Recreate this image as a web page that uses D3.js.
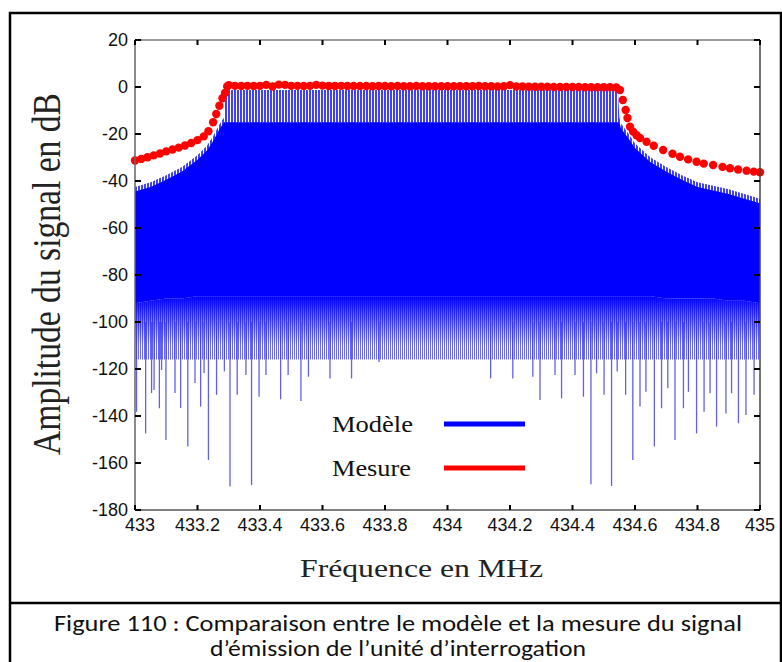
<!DOCTYPE html>
<html><head><meta charset="utf-8">
<script src="https://cdn.jsdelivr.net/npm/d3@7"></script>
<style>body{margin:0;background:#fff}</style>
</head><body><svg id="c" width="782" height="662"></svg>
<script>
// ---------- data ----------
const xTicks = [433, 433.2, 433.4, 433.6, 433.8, 434, 434.2, 434.4, 434.6, 434.8, 435];
const yTicks = [20, 0, -20, -40, -60, -80, -100, -120, -140, -160, -180];

// Mesure (red dots)
const mesureFreq = [433.00,433.02,433.04,433.06,433.08,433.10,433.12,433.14,433.16,433.18,433.20,433.22,433.235,433.25,433.26,433.27,433.28,433.288,433.295,
  433.30,433.32,433.34,433.36,433.38,433.40,433.42,433.44,433.46,433.48,433.50,433.52,433.54,433.56,433.58,433.60,433.62,433.64,433.66,433.68,433.70,
  433.72,433.74,433.76,433.78,433.80,433.82,433.84,433.86,433.88,433.90,433.92,433.94,433.96,433.98,434.00,434.02,434.04,434.06,434.08,434.10,
  434.12,434.14,434.16,434.18,434.20,434.22,434.24,434.26,434.28,434.30,434.32,434.34,434.36,434.38,434.40,434.42,434.44,434.46,434.48,434.50,
  434.52,434.54,434.552,434.561,434.570,434.576,434.584,434.594,434.605,434.616,434.637,434.66,434.69,434.72,434.744,434.77,434.797,434.82,434.85,
  434.88,434.904,434.93,434.957,434.98,435.00];
const mesureDb = [-31.3,-30.6,-29.9,-29.1,-28.3,-27.4,-26.6,-25.8,-24.9,-23.8,-22.6,-21.0,-18.8,-15.0,-11.5,-8.0,-4.8,-2.5,0.2,
  0.8,0.5,0.4,0.5,0.4,0.5,0.9,0.2,1.0,0.9,0.5,0.5,0.4,0.5,0.9,0.6,0.4,0.4,0.5,0.4,0.4,
  0.4,0.4,0.3,0.4,0.4,0.3,0.4,0.3,0.3,0.4,0.3,0.3,0.3,0.3,0.3,0.3,0.3,0.3,0.3,0.4,
  0.3,0.3,0.2,0.3,0.8,0.2,0.2,0.1,0.1,0.1,0.1,0.0,0.0,0.0,0.0,0.0,-0.1,-0.1,-0.1,-0.1,
  -0.1,-0.2,-1.3,-5.5,-9.8,-13.2,-16.9,-19.0,-20.5,-21.7,-23.3,-25.0,-26.8,-28.4,-29.7,-30.8,-31.8,-32.6,-33.2,
  -34.0,-34.6,-35.1,-35.6,-36.0,-36.3];

// Modèle (blue spectrum) envelopes
const modelFreq = [433.00,433.05,433.10,433.15,433.20,433.23,433.25,433.27,433.285,433.29,434.545,434.55,434.555,434.58,434.60,434.65,434.70,434.75,434.80,434.85,434.90,434.95,435.00];
const modelPeak = [-42.5,-40.5,-37.5,-34,-29,-25,-21,-16,-13,-1.3,-1.3,-13,-15.5,-20,-24,-30,-34,-37.5,-40.5,-42,-43.5,-45.5,-47.5];
const modelSolidTop = [-44.5,-42.5,-39.5,-36,-31,-27,-23,-18,-15,-15,-15,-15,-17.5,-22,-26,-32,-36,-39.5,-42.5,-44,-45.5,-47.5,-49.5];
const modelSolidBottom = [-92,-91,-90,-90,-89,-89,-89,-89,-89,-89,-89,-89,-89,-89,-89,-89,-90,-90,-90,-90,-91,-91,-92];
const modelFloor = [-116,-116,-116,-116,-116,-116,-116,-116,-116,-116,-116,-116,-116,-116,-116,-116,-116,-116,-116,-116,-116,-116,-116];

// Modèle deep notches
const notchFreq = [433.005,433.034,433.053,433.061,433.078,433.085,433.099,433.128,433.146,433.169,433.192,433.210,433.221,433.235,433.261,433.286,
  433.304,433.327,433.355,433.373,433.397,433.419,433.466,433.490,433.531,433.555,433.624,433.693,433.781,
  434.138,434.209,434.273,434.296,434.344,434.365,434.408,434.435,434.459,434.477,434.501,434.525,434.543,434.570,434.593,434.616,434.635,
  434.662,434.685,434.705,434.728,434.755,434.771,434.797,434.821,434.840,434.861,434.891,434.909,434.931,434.955,434.981];
const notchDb = [-138.2,-147.4,-130.2,-128.9,-136.7,-120.4,-150.2,-130.2,-136.6,-153,-126,-136,-121.7,-158.7,-131,-121,
  -170,-131,-122.5,-169.4,-131.8,-122.5,-132.9,-122.5,-133.6,-123.3,-124,-124,-117,
  -124,-124,-123.3,-133.2,-122.5,-132.5,-122.5,-131.8,-169,-121.8,-131,-169.8,-121.1,-131,-158.7,-136,-129.7,
  -153,-136.7,-128.2,-150.2,-136.7,-129.7,-147.4,-138.2,-130.3,-144.5,-138.9,-130.3,-143.1,-139.6,-131];

const legendLabels = ["Modèle", "Mesure"];
const seriesColors = ["#0000ff", "#ff0000"];
const captionLines = ["Figure 110 : Comparaison entre le modèle et la mesure du signal", "d\u2019émission de l\u2019unité d\u2019interrogation"];

// ---------- layout ----------
const L = 135, R = 760, T = 40, B = 510;
const x = d3.scaleLinear().domain([433, 435]).range([L, R]);
const y = d3.scaleLinear().domain([-180, 20]).range([B, T]);

const svg = d3.select("#c");
const defs = svg.append("defs");
const comb = defs.append("pattern").attr("id", "comb").attr("patternUnits", "userSpaceOnUse")
  .attr("width", 3).attr("height", 4);
comb.append("rect").attr("width", 2).attr("height", 4).attr("fill", "#0000ff").attr("opacity", 0.75);
const mid = defs.append("pattern").attr("id", "mid").attr("patternUnits", "userSpaceOnUse")
  .attr("width", 2).attr("height", 4);
mid.append("rect").attr("width", 1).attr("height", 4).attr("fill", "#2a2af0").attr("opacity", 0.7);
const grad = defs.append("linearGradient").attr("id", "fade").attr("gradientUnits", "userSpaceOnUse")
  .attr("x1", 0).attr("x2", 0).attr("y1", y(-89)).attr("y2", y(-110));
grad.append("stop").attr("offset", 0).attr("stop-color", "#0000ff").attr("stop-opacity", 1);
grad.append("stop").attr("offset", 1).attr("stop-color", "#0000ff").attr("stop-opacity", 0);
defs.append("clipPath").attr("id", "clip").append("rect")
  .attr("x", L).attr("y", T).attr("width", R - L).attr("height", B - T);

// outer frame
svg.append("rect").attr("x", 10).attr("y", 13).attr("width", 771).attr("height", 665)
  .attr("fill", "none").attr("stroke", "#000").attr("stroke-width", 2.5);
svg.append("line").attr("x1", 10).attr("x2", 781).attr("y1", 603).attr("y2", 603)
  .attr("stroke", "#000").attr("stroke-width", 2.5);

const plot = svg.append("g").attr("clip-path", "url(#clip)");
const idx = d3.range(modelFreq.length);

// mid line region
plot.append("path").datum(idx)
  .attr("d", d3.area().x(i => x(modelFreq[i])).y0(i => y(modelFloor[i])).y1(i => y(modelSolidBottom[i])))
  .attr("fill", "url(#mid)");
plot.append("path").datum(idx)
  .attr("d", d3.area().x(i => x(modelFreq[i])).y0(i => y(modelFloor[i])).y1(i => y(modelSolidBottom[i])))
  .attr("fill", "url(#fade)");
// notches
plot.selectAll("line.notch").data(notchFreq).join("line").attr("class", "notch")
  .attr("x1", d => x(d)).attr("x2", d => x(d))
  .attr("y1", y(-100)).attr("y2", (d, i) => y(notchDb[i]))
  .attr("stroke", "#3a3ae6").attr("stroke-width", 1.3).attr("opacity", 0.8);
// solid region
plot.append("path").datum(idx)
  .attr("d", d3.area().x(i => x(modelFreq[i])).y0(i => y(modelSolidBottom[i])).y1(i => y(modelSolidTop[i])))
  .attr("fill", seriesColors[0]);
// comb teeth
plot.append("path").datum(idx)
  .attr("d", d3.area().x(i => x(modelFreq[i])).y0(i => y(modelSolidTop[i]) + 0.5).y1(i => y(modelPeak[i])))
  .attr("fill", "url(#comb)");

// red measure dots
svg.append("g").selectAll("circle").data(mesureFreq).join("circle")
  .attr("cx", d => x(d)).attr("cy", (d, i) => y(mesureDb[i])).attr("r", 4.2)
  .attr("fill", seriesColors[1]);

// axes box
const ax = svg.append("g");
ax.append("line").attr("x1", L).attr("x2", R).attr("y1", T).attr("y2", T).attr("stroke", "#777").attr("stroke-width", 1.5);
ax.append("line").attr("x1", L).attr("x2", L).attr("y1", T).attr("y2", B).attr("stroke", "#666").attr("stroke-width", 1.5);
ax.append("line").attr("x1", L).attr("x2", R).attr("y1", B).attr("y2", B).attr("stroke", "#555").attr("stroke-width", 1.5);
ax.append("line").attr("x1", R).attr("x2", R).attr("y1", T).attr("y2", B).attr("stroke", "#444").attr("stroke-width", 1.5);

// ticks
ax.selectAll("line.xtb").data(xTicks).join("line").attr("class", "xtb")
  .attr("x1", d => x(d)).attr("x2", d => x(d)).attr("y1", B).attr("y2", B - 5)
  .attr("stroke", "#000").attr("stroke-width", 2);
ax.selectAll("line.xtt").data(xTicks).join("line").attr("class", "xtt")
  .attr("x1", d => x(d)).attr("x2", d => x(d)).attr("y1", T).attr("y2", T + 5)
  .attr("stroke", "#000").attr("stroke-width", 2);
ax.selectAll("line.ytl").data(yTicks).join("line").attr("class", "ytl")
  .attr("x1", L).attr("x2", L + 6).attr("y1", d => y(d)).attr("y2", d => y(d))
  .attr("stroke", "#000").attr("stroke-width", 2);
ax.selectAll("line.ytr").data(yTicks).join("line").attr("class", "ytr")
  .attr("x1", R).attr("x2", R - 6).attr("y1", d => y(d)).attr("y2", d => y(d))
  .attr("stroke", "#000").attr("stroke-width", 2);

// tick labels
const sans = "'Liberation Sans', Arial, sans-serif";
ax.selectAll("text.yl").data(yTicks).join("text").attr("class", "yl")
  .attr("x", 128).attr("y", d => y(d)).attr("dy", "0.36em").attr("text-anchor", "end")
  .attr("font-family", sans).attr("font-size", 18).attr("fill", "#111").text(d => d);
ax.selectAll("text.xl").data(xTicks).join("text").attr("class", "xl")
  .attr("x", (d, i) => x(d) + (i === 0 ? 5 : 0)).attr("y", 531).attr("text-anchor", "middle")
  .attr("font-family", sans).attr("font-size", 18).attr("fill", "#111").text(d => d);

// axis titles
const serif = "'Liberation Serif', 'Times New Roman', serif";
svg.append("text").attr("x", 421.5).attr("y", 577).attr("text-anchor", "middle")
  .attr("font-family", serif).attr("font-size", 25).attr("fill", "#222")
  .attr("textLength", 243).attr("lengthAdjust", "spacingAndGlyphs").text("Fréquence en MHz");
svg.append("text").attr("transform", "translate(60,274) scale(1.2,1) rotate(-90)")
  .attr("text-anchor", "middle").attr("font-family", serif).attr("font-size", 33).attr("fill", "#222")
  .attr("textLength", 362).attr("lengthAdjust", "spacingAndGlyphs").text("Amplitude du signal en dB");

// legend
const lg = svg.append("g");
const legY = [424, 468];
const legW = [81, 79];
lg.selectAll("text").data(legendLabels).join("text")
  .attr("x", 332).attr("y", (d, i) => legY[i] + 8)
  .attr("font-family", serif).attr("font-size", 23).attr("fill", "#111")
  .attr("textLength", (d, i) => legW[i]).attr("lengthAdjust", "spacingAndGlyphs").text(d => d);
lg.selectAll("line").data(legendLabels).join("line")
  .attr("x1", 444).attr("x2", 525).attr("y1", (d, i) => legY[i]).attr("y2", (d, i) => legY[i])
  .attr("stroke", (d, i) => seriesColors[i]).attr("stroke-width", 5);

// caption
const capFont = "Carlito, Calibri, Lato, 'Open Sans', sans-serif";
const capW = [688, 376];
svg.selectAll("text.cap").data(captionLines).join("text").attr("class", "cap")
  .attr("x", 398).attr("y", (d, i) => 631 + i * 25).attr("text-anchor", "middle")
  .attr("font-family", capFont).attr("font-size", 22).attr("fill", "#111")
  .attr("textLength", (d, i) => capW[i]).attr("lengthAdjust", "spacingAndGlyphs").text(d => d);
</script></body></html>
